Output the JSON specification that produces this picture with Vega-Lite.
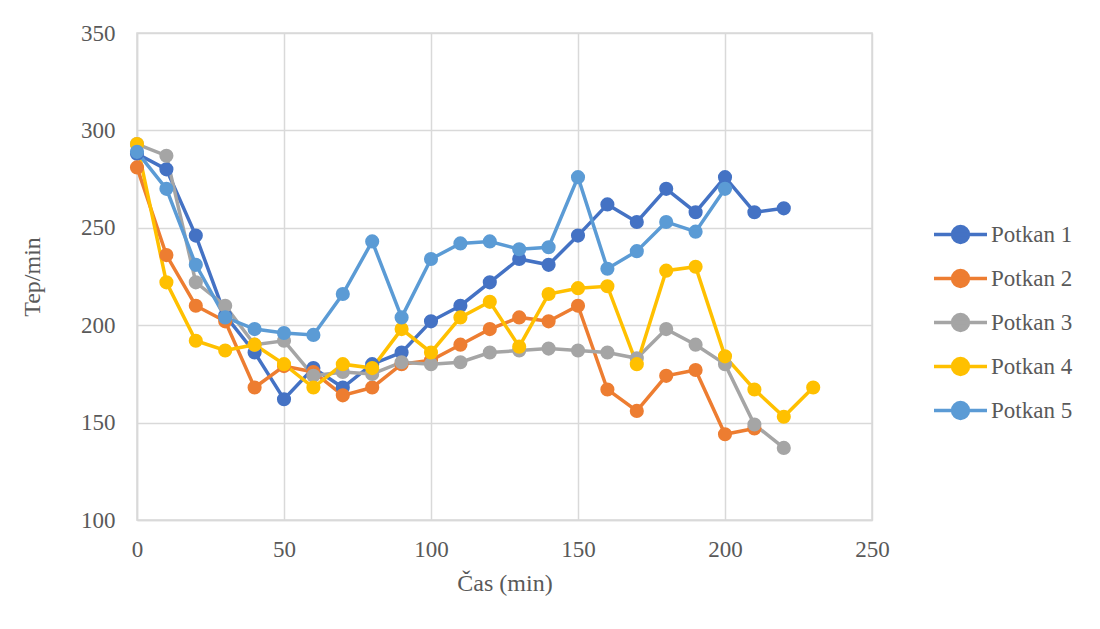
{
  "$schema": "https://vega.github.io/schema/vega-lite/v6.json",
  "width": 735,
  "height": 487,
  "autosize": {"type": "none"},
  "padding": {"left": 137, "top": 33, "right": 228, "bottom": 109},
  "background": "white",
  "config": {
    "font": "Liberation Serif",
    "view": {"stroke": "#d9d9d9", "strokeWidth": 1.5},
    "axis": {
      "gridColor": "#d9d9d9",
      "gridWidth": 1.5,
      "domainColor": "#d9d9d9",
      "domainWidth": 1.5,
      "ticks": false,
      "labelFlush": false,
      "labelFont": "Liberation Serif",
      "labelFontSize": 23,
      "labelColor": "#595959",
      "titleFont": "Liberation Serif",
      "titleFontSize": 24,
      "titleFontWeight": "normal",
      "titleColor": "#595959"
    }
  },
  "data": {
    "values": [
      {"t": 0, "s": "Potkan 1", "v": 288}, {"t": 10, "s": "Potkan 1", "v": 280}, {"t": 20, "s": "Potkan 1", "v": 246}, {"t": 30, "s": "Potkan 1", "v": 205}, {"t": 40, "s": "Potkan 1", "v": 186}, {"t": 50, "s": "Potkan 1", "v": 162}, {"t": 60, "s": "Potkan 1", "v": 178}, {"t": 70, "s": "Potkan 1", "v": 168}, {"t": 80, "s": "Potkan 1", "v": 180}, {"t": 90, "s": "Potkan 1", "v": 186}, {"t": 100, "s": "Potkan 1", "v": 202}, {"t": 110, "s": "Potkan 1", "v": 210}, {"t": 120, "s": "Potkan 1", "v": 222}, {"t": 130, "s": "Potkan 1", "v": 234}, {"t": 140, "s": "Potkan 1", "v": 231}, {"t": 150, "s": "Potkan 1", "v": 246}, {"t": 160, "s": "Potkan 1", "v": 262}, {"t": 170, "s": "Potkan 1", "v": 253}, {"t": 180, "s": "Potkan 1", "v": 270}, {"t": 190, "s": "Potkan 1", "v": 258}, {"t": 200, "s": "Potkan 1", "v": 276}, {"t": 210, "s": "Potkan 1", "v": 258}, {"t": 220, "s": "Potkan 1", "v": 260},
      {"t": 0, "s": "Potkan 2", "v": 281}, {"t": 10, "s": "Potkan 2", "v": 236}, {"t": 20, "s": "Potkan 2", "v": 210}, {"t": 30, "s": "Potkan 2", "v": 202}, {"t": 40, "s": "Potkan 2", "v": 168}, {"t": 50, "s": "Potkan 2", "v": 179}, {"t": 60, "s": "Potkan 2", "v": 176}, {"t": 70, "s": "Potkan 2", "v": 164}, {"t": 80, "s": "Potkan 2", "v": 168}, {"t": 90, "s": "Potkan 2", "v": 180}, {"t": 100, "s": "Potkan 2", "v": 182}, {"t": 110, "s": "Potkan 2", "v": 190}, {"t": 120, "s": "Potkan 2", "v": 198}, {"t": 130, "s": "Potkan 2", "v": 204}, {"t": 140, "s": "Potkan 2", "v": 202}, {"t": 150, "s": "Potkan 2", "v": 210}, {"t": 160, "s": "Potkan 2", "v": 167}, {"t": 170, "s": "Potkan 2", "v": 156}, {"t": 180, "s": "Potkan 2", "v": 174}, {"t": 190, "s": "Potkan 2", "v": 177}, {"t": 200, "s": "Potkan 2", "v": 144}, {"t": 210, "s": "Potkan 2", "v": 147},
      {"t": 0, "s": "Potkan 3", "v": 293}, {"t": 10, "s": "Potkan 3", "v": 287}, {"t": 20, "s": "Potkan 3", "v": 222}, {"t": 30, "s": "Potkan 3", "v": 210}, {"t": 40, "s": "Potkan 3", "v": 190}, {"t": 50, "s": "Potkan 3", "v": 192}, {"t": 60, "s": "Potkan 3", "v": 174}, {"t": 70, "s": "Potkan 3", "v": 176}, {"t": 80, "s": "Potkan 3", "v": 175}, {"t": 90, "s": "Potkan 3", "v": 181}, {"t": 100, "s": "Potkan 3", "v": 180}, {"t": 110, "s": "Potkan 3", "v": 181}, {"t": 120, "s": "Potkan 3", "v": 186}, {"t": 130, "s": "Potkan 3", "v": 187}, {"t": 140, "s": "Potkan 3", "v": 188}, {"t": 150, "s": "Potkan 3", "v": 187}, {"t": 160, "s": "Potkan 3", "v": 186}, {"t": 170, "s": "Potkan 3", "v": 183}, {"t": 180, "s": "Potkan 3", "v": 198}, {"t": 190, "s": "Potkan 3", "v": 190}, {"t": 200, "s": "Potkan 3", "v": 180}, {"t": 210, "s": "Potkan 3", "v": 149}, {"t": 220, "s": "Potkan 3", "v": 137},
      {"t": 0, "s": "Potkan 4", "v": 293}, {"t": 10, "s": "Potkan 4", "v": 222}, {"t": 20, "s": "Potkan 4", "v": 192}, {"t": 30, "s": "Potkan 4", "v": 187}, {"t": 40, "s": "Potkan 4", "v": 190}, {"t": 50, "s": "Potkan 4", "v": 180}, {"t": 60, "s": "Potkan 4", "v": 168}, {"t": 70, "s": "Potkan 4", "v": 180}, {"t": 80, "s": "Potkan 4", "v": 178}, {"t": 90, "s": "Potkan 4", "v": 198}, {"t": 100, "s": "Potkan 4", "v": 186}, {"t": 110, "s": "Potkan 4", "v": 204}, {"t": 120, "s": "Potkan 4", "v": 212}, {"t": 130, "s": "Potkan 4", "v": 189}, {"t": 140, "s": "Potkan 4", "v": 216}, {"t": 150, "s": "Potkan 4", "v": 219}, {"t": 160, "s": "Potkan 4", "v": 220}, {"t": 170, "s": "Potkan 4", "v": 180}, {"t": 180, "s": "Potkan 4", "v": 228}, {"t": 190, "s": "Potkan 4", "v": 230}, {"t": 200, "s": "Potkan 4", "v": 184}, {"t": 210, "s": "Potkan 4", "v": 167}, {"t": 220, "s": "Potkan 4", "v": 153}, {"t": 230, "s": "Potkan 4", "v": 168},
      {"t": 0, "s": "Potkan 5", "v": 289}, {"t": 10, "s": "Potkan 5", "v": 270}, {"t": 20, "s": "Potkan 5", "v": 231}, {"t": 30, "s": "Potkan 5", "v": 204}, {"t": 40, "s": "Potkan 5", "v": 198}, {"t": 50, "s": "Potkan 5", "v": 196}, {"t": 60, "s": "Potkan 5", "v": 195}, {"t": 70, "s": "Potkan 5", "v": 216}, {"t": 80, "s": "Potkan 5", "v": 243}, {"t": 90, "s": "Potkan 5", "v": 204}, {"t": 100, "s": "Potkan 5", "v": 234}, {"t": 110, "s": "Potkan 5", "v": 242}, {"t": 120, "s": "Potkan 5", "v": 243}, {"t": 130, "s": "Potkan 5", "v": 239}, {"t": 140, "s": "Potkan 5", "v": 240}, {"t": 150, "s": "Potkan 5", "v": 276}, {"t": 160, "s": "Potkan 5", "v": 229}, {"t": 170, "s": "Potkan 5", "v": 238}, {"t": 180, "s": "Potkan 5", "v": 253}, {"t": 190, "s": "Potkan 5", "v": 248}, {"t": 200, "s": "Potkan 5", "v": 270}
    ]
  },
  "encoding": {
    "x": {
      "field": "t", "type": "quantitative", "title": "Čas (min)",
      "scale": {"domain": [0, 250], "nice": false, "zero": false},
      "axis": {"values": [0, 50, 100, 150, 200, 250], "labelPadding": 18, "titlePadding": 10}
    },
    "y": {
      "field": "v", "type": "quantitative", "title": "Tep/min",
      "scale": {"domain": [100, 350], "nice": false, "zero": false},
      "axis": {"values": [100, 150, 200, 250, 300, 350], "labelPadding": 22, "titlePadding": 36}
    },
    "color": {
      "field": "s", "type": "nominal", "title": null,
      "scale": {
        "domain": ["Potkan 1", "Potkan 2", "Potkan 3", "Potkan 4", "Potkan 5"],
        "range": ["#4472C4", "#ED7D31", "#A5A5A5", "#FFC000", "#5B9BD5"]
      },
      "legend": {
        "orient": "none",
        "legendX": 795,
        "legendY": 173,
        "padding": 0,
        "symbolType": "M -1 0 L 1 0 M 0.3 0 A 0.3 0.3 0 1 1 -0.3 0 A 0.3 0.3 0 1 1 0.3 0 Z",
        "symbolSize": 2809,
        "symbolStrokeWidth": 3.5,
        "symbolOpacity": 1,
        "labelFont": "Liberation Serif",
        "labelFontSize": 23,
        "labelColor": "#595959",
        "labelOffset": 2,
        "rowPadding": -4
      }
    }
  },
  "layer": [
    {"mark": {"type": "line", "strokeWidth": 3.5}},
    {"mark": {"type": "point", "filled": true, "size": 200, "opacity": 1}}
  ]
}
